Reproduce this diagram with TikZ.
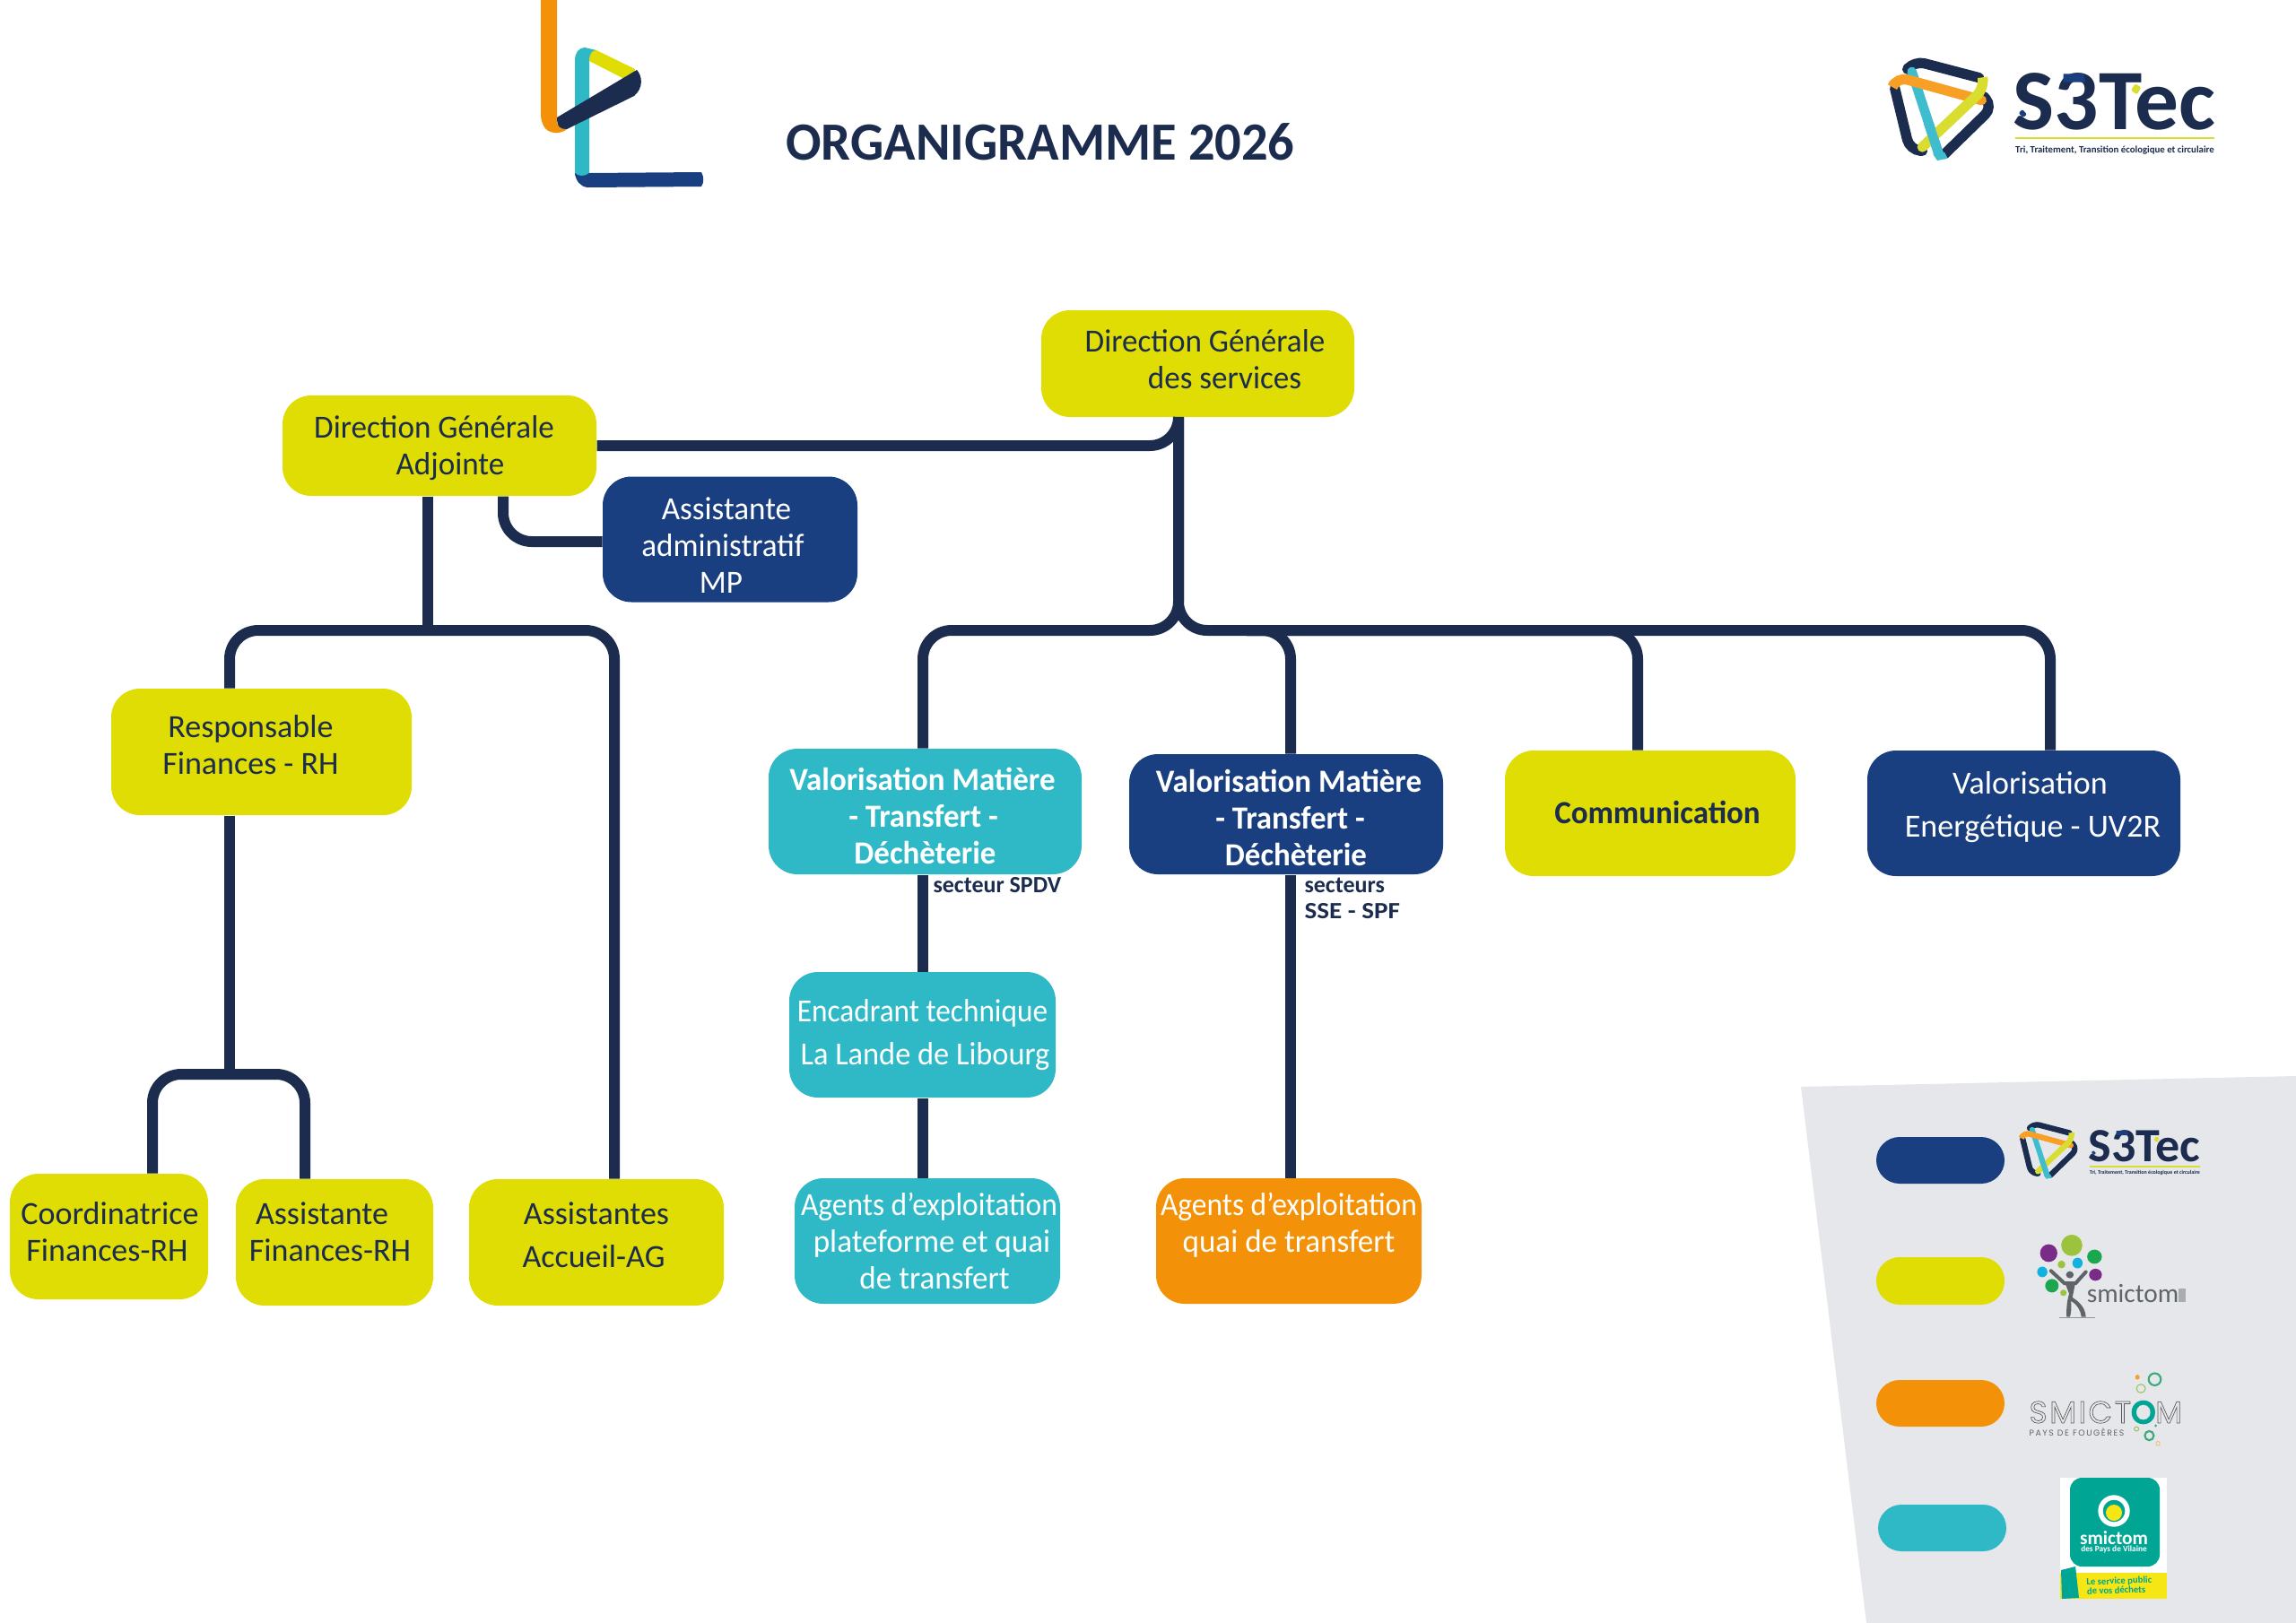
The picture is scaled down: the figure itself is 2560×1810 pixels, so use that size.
\documentclass[tikz,border=0pt]{standalone}
\usepackage{fontspec}
\setmainfont{Carlito}
\newfontfamily\ringfont{Poppins}
\usetikzlibrary{positioning}
\definecolor{sdark}{RGB}{27,44,78}
\definecolor{snavy}{RGB}{26,63,128}
\definecolor{slime}{RGB}{223,221,3}
\definecolor{scyan}{RGB}{47,185,199}
\definecolor{sorange}{RGB}{243,146,8}
\definecolor{spanel}{RGB}{230,231,235}
\definecolor{lgorange}{RGB}{247,160,37}
\definecolor{lglime}{RGB}{217,221,47}
\definecolor{lgcyan}{RGB}{63,188,205}
\definecolor{vteal}{RGB}{0,165,148}
\definecolor{vyellow}{RGB}{245,230,20}
\definecolor{tgray}{RGB}{95,100,104}
\newdimen\pxu \pxu=0.75pt
\def\tdy{0}
% one line of a box: shifted from the box centre by #1, lowered by tdy
\newcommand{\tl}[2]{\hspace*{#1\pxu}\raisebox{\dimexpr-\tdy\pxu-1.5\pxu\relax}[0pt][0pt]{#2}\hspace*{-#1\pxu}}
\newcommand{\squeeze}[2]{{\addfontfeature{FakeStretch=#1}#2}}
\tikzset{
  every picture/.style={line width=0.75pt},
  tdy/.code={\def\tdy{#1}},
  orgbox/.style n args={3}{rectangle,rounded corners=24pt,inner sep=0pt,align=center,
    minimum width=#1*0.75pt,minimum height=#2*0.75pt,fill=#3,
    font=\fontsize{27pt}{30.75pt}\selectfont\addfontfeature{FakeStretch=0.975}},
  darktext/.style={text=sdark},
  lighttext/.style={text=white},
  fullwidth/.style={font=\fontsize{27pt}{30.75pt}\selectfont},
  strong/.style={font=\fontsize{27pt}{30.75pt}\selectfont\bfseries\addfontfeature{FakeStretch=0.97}},
  looselines/.style={font=\fontsize{27pt}{36pt}\selectfont},
  link/.style={draw=sdark,line width=9pt},
  curved/.style={link,rounded corners=24pt},
  pill/.style n args={1}{fill=#1,rounded corners=19.5pt},
  note/.style={text=sdark,inner sep=0pt,font=\fontsize{19.5pt}{22pt}\selectfont\bfseries},
}
% the S3Tec mark, given in a grid of thirds of a pixel
\newcommand{\sttec}[4]{%
\begin{scope}[shift={(#1,#2)},scale=#3/3]
\draw [color=sdark,line width=#3*8.5pt,line cap=round,line join=round,rounded corners=#3*9pt] (205,135) -- (222,113) -- (440,170) ;
\draw [color=sdark,line width=#3*8.5pt,line cap=round,rounded corners=#3*9pt] (158,205) -- (208,412) -- (250,415) ;
\draw [color=sdark,line width=#3*8.5pt,line cap=round,rounded corners=#3*9pt] (455,232) -- (486,268) -- (325,425) ;
\draw [color=lgcyan,line width=#3*8pt,line cap=round] (215,150) -- (305,425) ;
\draw [color=lgorange,line width=#3*8.5pt,line cap=round,rounded corners=#3*9pt] (155,190) -- (165,167) -- (448,245) ;
\draw [color=lglime,line width=#3*8.5pt,line cap=round,rounded corners=#3*9pt] (452,170) -- (458,205) -- (250,402) ;
\draw [color=lgcyan,line width=#3*8pt] (270,320) -- (305,425) ;
\fill [color=lgcyan] (285,425) -- (325,420) -- (335,440) -- (300,447) -- cycle ;
% Text Node
\node (word#4) [anchor=base west,inner sep=0pt,scale=#3,text=sdark,font=\fontsize{72pt}{72pt}\selectfont\bfseries\addfontfeature{FakeStretch=1.015}] at (553,342) {S3Tec};
\fill [color=snavy] (722,157) -- (790,157) -- (796,185) -- (722,185) -- cycle ;
\fill [color=snavy,rounded corners=#3*1pt] (572,288) -- (585,276) -- (600,293) -- (587,303) -- cycle ;
\fill [color=lglime,rounded corners=#3*1pt] (948,212) -- (962,190) -- (982,202) -- (968,226) -- cycle ;
\draw [color=lglime,line width=#3*1.5pt] (560,373) -- (1228,373) ;
% Text Node
\node (tag#4) [inner sep=0pt,scale=#3,text=sdark,font=\fontsize{8.1pt}{9pt}\selectfont\bfseries] at (894,412) {Tri, Traitement, Transition écologique et circulaire};
\end{scope}}

\begin{document}
\begin{tikzpicture}[x=0.75pt,y=0.75pt,yscale=-1,xscale=1]
\useasboundingbox (0,0) rectangle (2560,1810);

%Shape: Legend panel
\fill [color=spanel] (2008,1212) -- (2560,1200) -- (2560,1810) -- (2081,1810) -- cycle ;

%Shape: Ribbon logo
\fill [color=sorange] (603,0) -- (621,0) -- (621,138) -- (632,144) .. controls (626,150) and (610,150) .. (606,140) .. controls (604,136) and (603,132) .. (603,128) -- cycle ;
\fill [color=scyan] (641,68) .. controls (641,58) and (646,53) .. (652,53) -- (665,56) -- (657,68) -- (657,196) -- (641,196) -- cycle ;
\fill [color=slime] (657,68) .. controls (657,60) and (660,56) .. (665,56) -- (708,77) -- (706,88) -- (702,91) -- cycle ;
\fill [color=sdark] (621,131) -- (710,78) .. controls (716,84) and (718,98) .. (707,107) -- (632,144) .. controls (625,144) and (621,142) .. (621,131) -- cycle ;
\fill [color=snavy] (641,193) .. controls (645,197) and (652,197) .. (657,193) -- (782,192) .. controls (785,197) and (785,204) .. (782,208) -- (655,209) .. controls (647,208) and (642,202) .. (641,193) -- cycle ;

%Shape: S3Tec logos
\sttec{2060}{30}{1}{top}
\sttec{2226}{1232}{0.555}{leg}

% Text Node
\node (title) [inner sep=0pt,text=sdark,font=\fontsize{45pt}{50pt}\selectfont\bfseries\addfontfeature{FakeStretch=0.975}] at (1160,158) {ORGANIGRAMME 2026};

%Rounded boxes of the chart
\node (dgs) [orgbox={349}{119}{slime},darktext,tdy=6] at (1335.5,405.5) {\tl{8}{Direction Générale}\\\tl{30}{des services}};
\node (dga) [orgbox={350}{112}{slime},darktext,tdy=10] at (490,497) {\tl{-6}{Direction Générale}\\\tl{12}{Adjointe}};
\node (asmp) [orgbox={284}{140}{snavy},lighttext,tdy=17] at (814,601.5) {\tl{-4}{Assistante}\\\tl{-16}{administratif}\\\tl{-10}{MP}};
\node (resp) [orgbox={335}{141}{slime},darktext,fullwidth,tdy=3] at (291.5,838.5) {\tl{-12}{Responsable}\\\tl{-12}{Finances - RH}};
\node (coord) [orgbox={221}{140}{slime},darktext,fullwidth,tdy=5] at (121.5,1379) {\tl{1}{Coordinatrice}\\\tl{-2}{Finances-RH}};
\node (asfi) [orgbox={220}{141}{slime},darktext,fullwidth,tdy=-1.5] at (373,1385.5) {\tl{-14}{Assistante}\\\tl{-5}{Finances-RH}};
\node (asag) [orgbox={284}{141}{slime},darktext,looselines,tdy=2] at (665,1385.5) {\tl{0}{Assistantes}\\\tl{-3}{Accueil-AG}};
\node (vmspdv) [orgbox={349}{140}{scyan},lighttext,strong,tdy=16] at (1031.5,905) {\tl{-3}{Valorisation Matière}\\\tl{-4}{- Transfert -}\\\tl{0}{Déchèterie}};
\node (vmsse) [orgbox={350}{134}{snavy},lighttext,strong,tdy=15] at (1434,908) {\tl{3}{Valorisation Matière}\\\tl{9}{- Transfert -}\\\tl{11}{Déchèterie}};
\node (comm) [orgbox={324}{140}{slime},darktext,strong,tdy=10] at (1840,907) {\tl{8}{Communication}};
\node (uvr) [orgbox={349}{140}{snavy},lighttext,looselines,tdy=1] at (2256.5,907) {\tl{7}{Valorisation}\\\tl{10}{Energétique - UV2R}};
\node (enc) [orgbox={297}{140}{scyan},lighttext,looselines,tdy=8] at (1028.5,1154) {\tl{0}{\squeeze{0.925}{Encadrant technique}}\\\tl{3}{\squeeze{0.955}{La Lande de Libourg}}};
\node (agspdv) [orgbox={296}{140}{scyan},lighttext,tdy=11] at (1034,1384) {\tl{2}{\squeeze{0.93}{Agents d’exploitation}}\\\tl{10}{plateforme et quai}\\\tl{8}{de transfert}};
\node (agsse) [orgbox={296}{140}{sorange},lighttext,tdy=-9.5] at (1437,1384) {\tl{0}{\squeeze{0.93}{Agents d’exploitation}}\\\tl{0}{quai de transfert}};

% Text Node
\node (sspdv) [note,anchor=west] at (1040,987) {secteur SPDV};
% Text Node
\node (ssse) [note,anchor=west] at (1454,987) {secteurs};
% Text Node
\node (sspf) [note,anchor=west] at (1454,1016) {\squeeze{1.12}{SSE - SPF}};

%Connector columns
\coordinate (hubdg) at (1314,703);
\coordinate (hubad) at (477,703);
\coordinate (hubrh) at (256,1198);
\coordinate (colas) at (685,703);
\coordinate (colco) at (170,1198);
\coordinate (colfi) at (340,1198);
\coordinate (colmp) at (561,604);
\coordinate (colsp) at (1029,703);
\coordinate (colss) at (1439,703);
\coordinate (colcm) at (1826,703);
\coordinate (coluv) at (2286,703);
\coordinate (runrt) at (1390,703);

%Straight Lines
\draw [curved] (dga.east) -| (hubdg |- dgs.south) ;
\draw [curved] (hubdg |- dgs.south) -- (hubdg) -| (colsp |- vmspdv.north) ;
\draw [curved] (hubdg |- dgs.south) -- (hubdg) -| (colss |- vmsse.north) ;
\draw [curved] (runrt) -| (colcm |- comm.north) ;
\draw [curved] (runrt) -| (coluv |- uvr.north) ;
\draw [curved] (colmp |- dga.south) |- (asmp.west |- colmp) ;
\draw [link] (hubad |- dga.south) -- (hubad) ;
\draw [curved] (hubrh |- resp.north) |- (hubad) -| (colas |- asag.north) ;
\draw [link] (hubrh |- resp.south) -- (hubrh) ;
\draw [curved] (colco |- coord.north) |- (hubrh) -| (colfi |- asfi.north) ;
\draw [link] (colsp |- vmspdv.south) -- (colsp |- enc.north) ;
\draw [link] (colsp |- enc.south) -- (colsp |- agspdv.north) ;
\draw [link] (colss |- vmsse.south) -- (colss |- agsse.north) ;

%Rounded Rect: legend
\fill [pill={snavy}] (2092,1268) rectangle (2235,1320) ;
\fill [pill={slime}] (2092,1402) rectangle (2235,1455) ;
\fill [pill={sorange}] (2092,1539) rectangle (2235,1591) ;
\fill [pill={scyan}] (2094,1678) rectangle (2237,1730) ;

%Shape: tree logo
\begin{scope}[shift={(2000,1190)},xscale=1/2.8,yscale=1/2.53]
\fill [color=black!35!spanel] (830,705) rectangle (940,709) ;
\draw [color=tgray,line width=3pt,line cap=round] (803,575) -- (845,610) -- (880,610) -- (912,578) ;
\fill [color=tgray] (845,605) -- (880,605) -- (870,650) .. controls (895,665) and (910,680) .. (912,705) -- (898,705) .. controls (895,685) and (885,670) .. (865,660) .. controls (868,680) and (866,695) .. (862,705) -- (852,705) .. controls (850,680) and (855,650) .. (860,640) -- cycle ;
\fill [color=tgray] (862,586) ellipse [x radius=12,y radius=10] ;
\fill [color={rgb, 255:red, 155; green, 196; blue, 60 }] (868,503) ellipse [x radius=33,y radius=30] (836,557) ellipse [x radius=12,y radius=11] (842,637) ellipse [x radius=10,y radius=9] ;
\fill [color={rgb, 255:red, 122; green, 42; blue, 135 }] (796,525) ellipse [x radius=27,y radius=25] (942,586) ellipse [x radius=20,y radius=17] ;
\fill [color={rgb, 255:red, 27; green, 166; blue, 80 }] (939,535) ellipse [x radius=23,y radius=20] (806,617) ellipse [x radius=21,y radius=19] ;
\fill [color={rgb, 255:red, 18; green, 178; blue, 224 }] (886,553) ellipse [x radius=16,y radius=15] (776,578) ellipse [x radius=16,y radius=15] ;
\end{scope}
\fill [color=tgray!45!spanel] (2429,1437) rectangle (2437,1452) ;
% Text Node
\node (smtree) [inner sep=0pt,text=tgray,font=\fontsize{22pt}{22pt}\selectfont] at (2378,1442) {smictom};

%Shape: bubbles logo
\begin{scope}[shift={(2000,1190)},xscale=1/2.8,yscale=1/2.53]
\fill [color=lgorange] (1073,875) circle [radius=7] ;
\draw [color={rgb, 255:red, 60; green, 170; blue, 120 },line width=1.6pt] (1127,881) ellipse [x radius=19,y radius=17] (1110,1040) ellipse [x radius=14,y radius=13] ;
\draw [color={rgb, 255:red, 155; green, 196; blue, 90 },line width=0.8pt] (1084,907) ellipse [x radius=14,y radius=12] (1070,1021) ellipse [x radius=7,y radius=6] ;
\fill [color={rgb, 255:red, 60; green, 170; blue, 120 }] (1130,1012) circle [radius=4] ;
\draw [color=lgorange!60!spanel,line width=0.6pt] (1137,1062) circle [radius=6] ;
\end{scope}
% Text Node
\node (smfg) [inner sep=0pt,anchor=base west,text=black!65,font=\ringfont\fontsize{25.8pt}{26pt}\selectfont\addfontfeature{LetterSpace=7.5}] at (2262,1587) {\special{pdf:code 1 Tr 0.5 w}SMICT\special{pdf:code 2 Tr 1.6 w}{\color{vteal}O}\special{pdf:code 1 Tr 0.5 w}M\special{pdf:code 0 Tr}};
% Text Node
\node (smfgp) [inner sep=0pt,anchor=west,text=tgray,font=\ringfont\fontsize{7pt}{8pt}\selectfont\addfontfeature{LetterSpace=17}] at (2262,1597) {PAYS DE FOUGÈRES};

%Shape: Vilaine logo
\fill [color=white] (2297,1648) rectangle (2416,1783) ;
\fill [color=vteal,rounded corners=10pt] (2308,1648) rectangle (2408,1747) ;
\fill [color=vyellow] (2297,1754) rectangle (2416,1783) ;
\fill [color=vteal] (2298,1751) -- (2314,1747) -- (2318,1782) -- (2299,1783) -- cycle ;
\draw [color=white,line width=4pt] (2357,1685) circle [radius=15] ;
\fill [color=vyellow] (2357,1687) circle [radius=9] ;
% Text Node
\node (smvil) [inner sep=0pt,text=white,font=\fontsize{16pt}{16pt}\selectfont\bfseries] at (2357,1715) {smictom};
% Text Node
\node (smvild) [inner sep=0pt,text=white,font=\fontsize{7pt}{7pt}\selectfont\bfseries] at (2357,1728) {des Pays de Vilaine};
% Text Node
\node (smvils) [inner sep=0pt,rotate=2,align=left,text=vteal,font=\fontsize{8pt}{7.8pt}\selectfont\bfseries] at (2363,1768) {Le service public\\de vos déchets};

\end{tikzpicture}
\end{document}
